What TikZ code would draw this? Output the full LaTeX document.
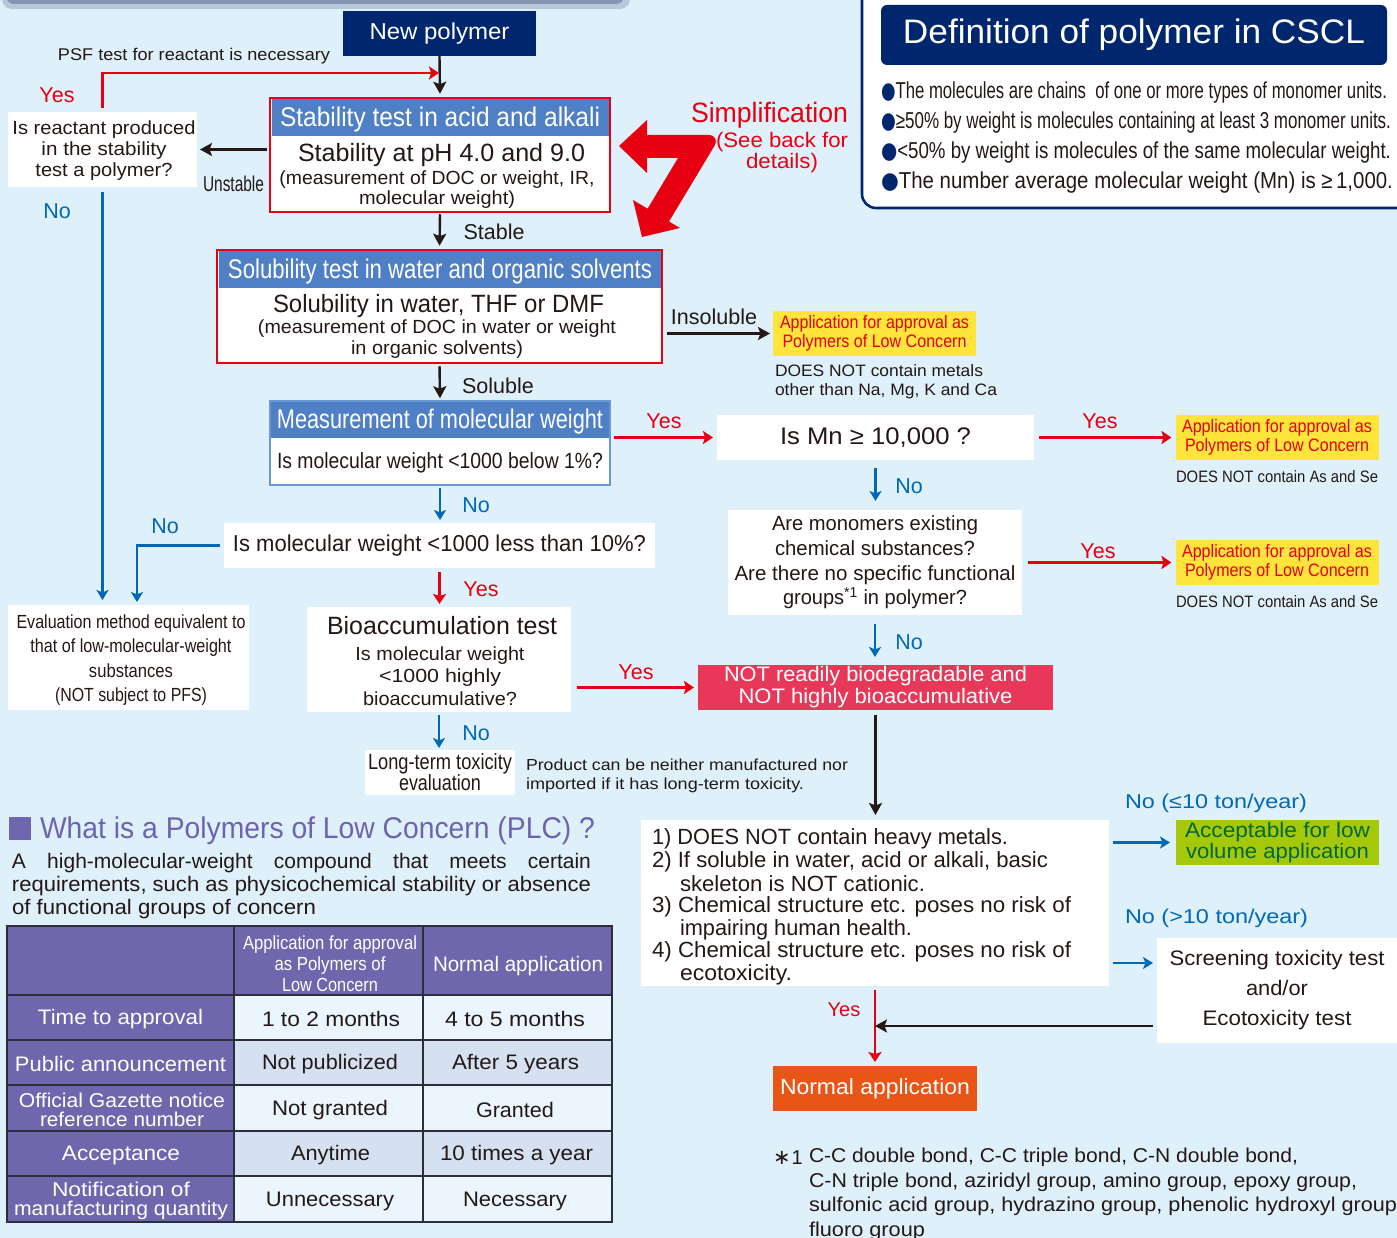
\documentclass[tikz,border=0pt]{standalone}
\usepackage{fontspec}
\usepackage{graphicx}
\setmainfont{Liberation Sans}
\newfontfamily\djf{DejaVu Sans}
\usetikzlibrary{arrows.meta}
\definecolor{bgc}{HTML}{DEF0FA}
\definecolor{navy}{HTML}{00266E}
\definecolor{hdr}{HTML}{4F80C5}
\definecolor{redc}{HTML}{E60012}
\definecolor{bluec}{HTML}{0068B7}
\definecolor{ylw}{HTML}{FFE43C}
\definecolor{crim}{HTML}{E8385A}
\definecolor{orng}{HTML}{E95517}
\definecolor{grn}{HTML}{A6C80B}
\definecolor{dgrn}{HTML}{006934}
\definecolor{purp}{HTML}{6F67AD}
\definecolor{purpt}{HTML}{6E64AE}
\definecolor{tl}{HTML}{EAF5FD}
\definecolor{tm}{HTML}{D5E1F1}
\definecolor{ink}{HTML}{231815}
\definecolor{measb}{HTML}{6A98D6}
\definecolor{topb}{HTML}{8594B0}
\definecolor{tgrid}{HTML}{2E2E3A}
\newcommand\hx[2]{\resizebox{#1pt}{\height}{#2}}
\newcommand\fs[2]{\fontsize{#1}{#2}\selectfont}
\begin{document}
\begin{tikzpicture}[x=1pt,y=-1pt]
\tikzset{
  wbox/.style={fill=white, inner sep=0pt, outer sep=0pt, align=center, text=ink},
  tx/.style={inner sep=0pt, outer sep=0pt, align=center, text=ink, yshift=-2pt},
  barr/.style={draw=ink, line width=2.4pt, -{Stealth[length=12pt,width=13pt,inset=2.5pt]}},
  rarr/.style={draw=redc, line width=2.6pt, -{Stealth[length=10pt,width=13pt,inset=2pt]}},
  blarr/.style={draw=bluec, line width=2.4pt, -{Stealth[length=10pt,width=12pt,inset=2.5pt]}},
  ylab/.style={tx, text=redc, font=\fs{21.5}{24}},
  nlab/.style={tx, text=bluec, font=\fs{21.5}{24}},
  klab/.style={tx, font=\fs{21.5}{24}},
  ybox/.style={fill=ylw, inner sep=0pt, outer sep=0pt, minimum width=203pt, minimum height=45pt, text=redc, align=center, font=\fs{18}{19}},
  cell/.style={tx, font=\fs{21}{23}},
  wcell/.style={tx, text=white, font=\fs{21}{23}},
}
\useasboundingbox (0,0) rectangle (1397,1238);
\clip (0,0) rectangle (1397,1238);
\fill[bgc] (0,0) rectangle (1397,1238);
% top bar
\fill[topb!45!bgc, rounded corners=10pt] (2,-20) rectangle (630,9);
\fill[topb, rounded corners=8pt] (6,-20) rectangle (624,4);

% definition box
\draw[navy, line width=2.6pt, fill=white, rounded corners=14pt] (862,-40) rectangle (1440,208);
\node[fill=navy, rounded corners=6pt, minimum width=506pt, minimum height=60pt, inner sep=0pt, text=white, font=\fs{34}{36}] (defh) at (1134,35) {\hx{462}{Definition of polymer in CSCL}};
\node[tx, anchor=west, font=\fs{23}{25}] (d1) at (881,91) {\hx{506}{{\color{navy}\djf ●}The molecules are chains\ \ of one or more types of monomer units.}};
\node[tx, anchor=west, font=\fs{23}{25}] (d2) at (881,121) {\hx{510}{{\color{navy}\djf ●}≥50\% by weight is molecules containing at least 3 monomer units.}};
\node[tx, anchor=west, font=\fs{23}{25}] (d3) at (881,151) {\hx{510}{{\color{navy}\djf ●}<50\% by weight is molecules of the same molecular weight.}};
\node[tx, anchor=west, font=\fs{23}{25}] (d4) at (881,181) {\hx{512}{{\color{navy}\djf ●}The number average molecular weight (Mn) is ≥\,1,000.}};

% simplification arrow
\fill[redc] (619,146) -- (647,120) -- (647,135) [rounded corners=13pt] -- (721,135) [sharp corners] -- (669,221.5) -- (680,228) -- (642,237) -- (633,200) -- (647.6,208.7) -- (678,158) -- (647,158) -- (647,173) -- cycle;
\node[tx, text=redc, font=\fs{28}{30}] (simp1) at (769.5,113) {\hx{157}{Simplification}};
\node[tx, text=redc, font=\fs{21}{21}] (simp2) at (782,150.5) {\hx{132}{(See back for}\\\hx{72}{details)}};

% new polymer
\node[fill=navy, minimum width=193pt, minimum height=45pt, inner sep=0pt, text=white, font=\fs{23}{25}] (newp) at (439.5,33.5) {\hx{140}{New polymer}};
\node[tx, font=\fs{17}{19}] (psf) at (194,54) {\hx{272}{PSF test for reactant is necessary}};

% reactant
\node[wbox, minimum width=189pt, minimum height=75pt] (react) at (102.5,149.5) {};
\node[tx, font=\fs{19}{21}] (reactt) at (104,149) {\hx{183}{Is reactant produced}\\\hx{125}{in the stability}\\\hx{137}{test a polymer?}};

% stability
\node[draw=redc, line width=2.5pt, fill=white, minimum width=340pt, minimum height=114pt, inner sep=0pt] (stab) at (440,155) {};
\fill[hdr] (271.5,99.5) rectangle (608.5,136.5);
\node[tx, text=white, font=\fs{27}{29}] (stabh) at (440,118) {\hx{320}{Stability test in acid and alkali}};
\node[tx, font=\fs{25}{27}] (stab1) at (441.5,153) {\hx{287}{Stability at pH 4.0 and 9.0}};
\node[tx, font=\fs{19}{20}] (stab2) at (437,188) {\hx{315}{(measurement of DOC or weight, IR,}\\\hx{156}{molecular weight)}};

% solubility
\node[draw=redc, line width=2.5pt, fill=white, minimum width=445pt, minimum height=113pt, inner sep=0pt] (sol) at (439.5,306.5) {};
\fill[hdr] (218.5,251.5) rectangle (660.5,288);
\node[tx, text=white, font=\fs{27}{29}] (solh) at (440,270) {\hx{424}{Solubility test in water and organic solvents}};
\node[tx, font=\fs{25}{27}] (sol1) at (438.5,304) {\hx{331}{Solubility in water, THF or DMF}};
\node[tx, font=\fs{19}{21}] (sol2) at (437,337.5) {\hx{358}{(measurement of DOC in water or weight}\\\hx{172}{in organic solvents)}};

% measurement
\node[draw=measb, line width=1.5pt, fill=white, minimum width=340pt, minimum height=84pt, inner sep=0pt] (meas) at (440,443) {};
\fill[hdr] (270.75,401.75) rectangle (609.25,438);
\node[tx, text=white, font=\fs{27}{29}] (meash) at (440,420) {\hx{326}{Measurement of molecular weight}};
\node[tx, font=\fs{22}{24}] (meas1) at (440,461) {\hx{326}{Is molecular weight <1000 below 1\%?}};

% insoluble -> PLC
\node[ybox] (plc1) at (874.5,333.5) {\hx{189}{Application for approval as}\\\hx{184}{Polymers of Low Concern}};
\node[tx, anchor=west, align=left, font=\fs{16.5}{19}] (plc1n) at (775,379.5) {\hx{208}{DOES NOT contain metals}\\\hx{222}{other than Na, Mg, K and Ca}};

% Mn
\node[wbox, minimum width=317pt, minimum height=45pt, font=\fs{24}{26}] (mn) at (875.5,437.5) {\hx{191}{Is Mn ≥ 10,000 ?}};
\node[ybox] (plc2) at (1277,437.5) {\hx{190}{Application for approval as}\\\hx{184}{Polymers of Low Concern}};
\node[tx, font=\fs{16.5}{19}] (plc2n) at (1277,475) {\hx{202}{DOES NOT contain As and Se}};

% monomers
\node[wbox, minimum width=294pt, minimum height=105pt, font=\fs{20.5}{24.7}] (mono) at (875,562.5) {\hx{206}{Are monomers existing}\\\hx{200}{chemical substances?}\\\hx{281}{Are there no specific functional}\\\hx{184}{groups\textsuperscript{*1} in polymer?}};
\node[ybox] (plc3) at (1277,562.5) {\hx{190}{Application for approval as}\\\hx{184}{Polymers of Low Concern}};
\node[tx, font=\fs{16.5}{19}] (plc3n) at (1277,600) {\hx{202}{DOES NOT contain As and Se}};

% not readily
\node[fill=crim, minimum width=355pt, minimum height=45pt, inner sep=0pt, outer sep=0pt, text=white, align=center, font=\fs{21}{22}] (notr) at (875.5,687.5) {\hx{303}{NOT readily biodegradable and}\\\hx{274}{NOT highly bioaccumulative}};

% less than 10%
\node[wbox, minimum width=431pt, minimum height=45pt, font=\fs{23}{25}] (q10) at (439.5,545.5) {\hx{413}{Is molecular weight <1000 less than 10\%?}};

% bioaccumulation
\node[wbox, minimum width=264pt, minimum height=105pt] (bio) at (439,659.5) {};
\node[tx, font=\fs{25}{27}] (bio1) at (442,624) {\hx{230}{Bioaccumulation test}};
\node[tx, font=\fs{19}{22.5}] (bio2) at (440,674) {\hx{169}{Is molecular weight}\\\hx{122}{<1000 highly}\\\hx{154}{bioaccumulative?}};

% long-term
\node[wbox, minimum width=150pt, minimum height=45pt, font=\fs{22}{21}] (lt) at (440,772.5) {\hx{144}{Long-term toxicity}\\\hx{82}{evaluation}};
\node[tx, anchor=west, align=left, font=\fs{16}{19}] (prod) at (526,773.5) {\hx{322}{Product can be neither manufactured nor}\\\hx{278}{imported if it has long-term toxicity.}};

% evaluation
\node[wbox, minimum width=241pt, minimum height=105pt] (eval) at (128.5,657.5) {};
\node[tx, font=\fs{19}{24.3}] (evalt) at (131,658) {\hx{229}{Evaluation method equivalent to}\\\hx{201}{that of low-molecular-weight}\\\hx{84}{substances}\\\hx{152}{(NOT subject to PFS)}};

% conditions
\node[wbox, minimum width=468pt, minimum height=166pt] (cond) at (875,903) {};
\node[tx, anchor=west, font=\fs{22}{24}] (c1) at (652,837) {\hx{356}{1) DOES NOT contain heavy metals.}};
\node[tx, anchor=west, font=\fs{22}{24}] (c2) at (652,860) {\hx{396}{2) If soluble in water, acid or alkali, basic}};
\node[tx, anchor=west, font=\fs{22}{24}] (c3) at (680,882) {\hx{245}{skeleton is NOT cationic.}};
\node[tx, anchor=west, font=\fs{22}{24}] (c4) at (652,905) {\hx{419}{3) Chemical structure etc. poses no risk of}};
\node[tx, anchor=west, font=\fs{22}{24}] (c5) at (680,928) {\hx{232}{impairing human health.}};
\node[tx, anchor=west, font=\fs{22}{24}] (c6) at (652,950) {\hx{419}{4) Chemical structure etc. poses no risk of}};
\node[tx, anchor=west, font=\fs{22}{24}] (c7) at (680,973) {\hx{112}{ecotoxicity.}};

\node[fill=grn, minimum width=203pt, minimum height=45pt, inner sep=0pt, outer sep=0pt, text=dgrn, align=center, font=\fs{21}{20.5}] (acc) at (1277.5,842.5) {\hx{185}{Acceptable for low}\\\hx{183}{volume application}};
\node[wbox, minimum width=240pt, minimum height=105pt, font=\fs{21}{30}] (scr) at (1277,990.5) {\hx{215}{Screening toxicity test}\\\hx{62}{and/or}\\\hx{149}{Ecotoxicity test}};
\node[fill=orng, minimum width=204pt, minimum height=45pt, inner sep=0pt, outer sep=0pt, text=white, font=\fs{22}{24}] (norm) at (875,1088.5) {\hx{190}{Normal application}};

% footnote
\node[tx, anchor=west, font=\fs{20}{24.5}] (fn0) at (773,1156) {{\djf\fs{21}{24}∗}\hspace{1pt}1};
\node[tx, anchor=west, align=left, font=\fs{20}{24.5}] (fn) at (809,1192.5) {\hx{489}{C-C double bond, C-C triple bond, C-N double bond,}\\\hx{548}{C-N triple bond, aziridyl group, amino group, epoxy group,}\\\hx{588}{sulfonic acid group, hydrazino group, phenolic hydroxyl group}\\\hx{116}{fluoro group}};

% PLC heading and paragraph
\fill[purp] (9,817) rectangle (31,840);
\node[tx, anchor=west, text=purpt, font=\fs{30}{32}] (plch) at (40,829) {\hx{555}{What is a Polymers of Low Concern (PLC) ?}};
\node[tx, anchor=west, font=\fs{21}{23}] (par1) at (12,861) {\makebox[579pt][s]{A high-molecular-weight compound that meets certain}};
\node[tx, anchor=west, font=\fs{21}{23}] (par2) at (12,884) {\hx{579}{requirements, such as physicochemical stability or absence}};
\node[tx, anchor=west, font=\fs{21}{23}] (par3) at (12,907) {\hx{304}{of functional groups of concern}};

% table
\fill[purp] (7,926) rectangle (612,995);
\fill[purp] (7,995) rectangle (234,1222);
\fill[tl] (234,995) rectangle (612,1040);
\fill[tm] (234,1040) rectangle (612,1085);
\fill[tl] (234,1085) rectangle (612,1131);
\fill[tm] (234,1131) rectangle (612,1176);
\fill[tl] (234,1176) rectangle (612,1222);
\foreach \yy in {995,1040,1085,1131,1176} \draw[tgrid, line width=1.6pt] (7,\yy) -- (612,\yy);
\draw[tgrid, line width=1.6pt] (234,926) -- (234,1222) (423,926) -- (423,1222);
\draw[tgrid, line width=2.2pt] (7,926) rectangle (612,1222);
\node[wcell, font=\fs{19}{21}] (th2) at (330,962) {\hx{174}{Application for approval}\\\hx{111}{as Polymers of}\\\hx{96}{Low Concern}};
\node[wcell] (th3) at (518,964) {\hx{170}{Normal application}};
\node[wcell] (r1a) at (120.5,1017) {\hx{165}{Time to approval}};
\node[cell] (r1b) at (331,1017) {\hx{138}{1 to 2 months}};
\node[cell] (r1c) at (515,1017) {\hx{140}{4 to 5 months}};
\node[wcell] (r2a) at (120.5,1062) {\hx{211}{Public announcement}};
\node[cell] (r2b) at (330,1062) {\hx{136}{Not publicized}};
\node[cell] (r2c) at (515.5,1062) {\hx{127}{After 5 years}};
\node[wcell, font=\fs{20}{18.5}] (r3a) at (122,1108) {\hx{206}{Official Gazette notice}\\\hx{164}{reference number}};
\node[cell] (r3b) at (330,1108) {\hx{116}{Not granted}};
\node[cell] (r3c) at (515,1108) {\hx{78}{Granted}};
\node[wcell] (r4a) at (121,1153) {\hx{118}{Acceptance}};
\node[cell] (r4b) at (330.5,1153) {\hx{79}{Anytime}};
\node[cell] (r4c) at (516.5,1153) {\hx{153}{10 times a year}};
\node[wcell, font=\fs{20}{19}] (r5a) at (121,1199) {\hx{138}{Notification of}\\\hx{214}{manufacturing quantity}};
\node[cell] (r5b) at (330,1199) {\hx{128}{Unnecessary}};
\node[cell] (r5c) at (515,1199) {\hx{104}{Necessary}};

% labels
\node[ylab] (ly1) at (57,93) {Yes};
\node[nlab] (ln1) at (57,209) {No};
\node[klab] (lunst) at (233.5,182) {\hx{61}{Unstable}};
\node[klab] (lstab) at (494,230) {Stable};
\node[klab] (lsol) at (498,384) {Soluble};
\node[klab] (linsol) at (714,315) {Insoluble};
\node[ylab] (ly2) at (664,419) {Yes};
\node[ylab] (ly3) at (1100,419) {Yes};
\node[nlab] (ln2) at (909,484) {No};
\node[ylab] (ly4) at (1098,549) {Yes};
\node[nlab] (ln3) at (909,640) {No};
\node[nlab] (ln4) at (476,503) {No};
\node[nlab] (ln5) at (165,524) {No};
\node[ylab] (ly5) at (481,587) {Yes};
\node[ylab] (ly6) at (636,670) {Yes};
\node[nlab] (ln6) at (476,731) {No};
\node[ylab, font=\fs{20}{22}] (ly7) at (844,1008) {Yes};
\node[nlab, font=\fs{20}{22}] (lno1) at (1216,801) {\hx{182}{No (≤10 ton/year)}};
\node[nlab, font=\fs{20}{22}] (lno2) at (1216.5,916) {\hx{183}{No (>10 ton/year)}};

% connectors
\coordinate (jn1) at (439,73);
\coordinate (e2) at (137,605);
\coordinate (yj) at (875,1026);
\coordinate (sy) at (1150,963);
\draw[rarr, shorten <=4pt] (react.north) |- (jn1);
\draw[barr, shorten >=3pt] (newp.south) -- (stab.north);
\draw[barr, shorten <=2pt, shorten >=3pt] (stab.west |- react.east) -- (react.east);
\draw[blarr, shorten <=5pt, shorten >=5pt] (react.south) -- (react.south |- eval.north);
\draw[barr, shorten <=1pt, shorten >=3pt] (stab.south) -- (sol.north);
\draw[barr, shorten <=2pt, shorten >=2pt] (sol.south) -- (meas.north);
\draw[barr, shorten <=4pt, shorten >=3pt] (sol.east |- plc1.west) -- (plc1.west);
\draw[rarr, shorten <=3pt, shorten >=4pt] (meas.east |- mn.west) -- (mn.west);
\draw[rarr, shorten <=5pt, shorten >=4pt] (mn.east) -- (plc2.west);
\draw[blarr, shorten <=8pt, shorten >=9pt] (mn.south) -- (mn.south |- mono.north);
\draw[rarr, shorten <=6pt, shorten >=4pt] (mono.east) -- (plc3.west);
\draw[blarr, shorten <=9pt, shorten >=8pt] (mono.south) -- (mono.south |- notr.north);
\draw[blarr, shorten <=2pt, shorten >=3pt] (meas.south) -- (meas.south |- q10.north);
\draw[rarr, shorten <=4pt, shorten >=3pt] (q10.south) -- (q10.south |- bio.north);
\draw[blarr, shorten <=4pt, shorten >=3pt] (q10.west) -| (e2);
\draw[rarr, shorten <=6pt, shorten >=4pt] (bio.east |- notr.west) -- (notr.west);
\draw[blarr, shorten <=3pt, shorten >=2pt] (bio.south) -- (bio.south |- lt.north);
\draw[barr, shorten <=5pt, shorten >=5pt] (notr.south) -- (notr.south |- cond.north);
\draw[blarr, shorten <=4pt, shorten >=6pt] (cond.east |- acc.west) -- (acc.west);
\draw[blarr, shorten <=4pt, shorten >=4pt] (cond.east |- sy) -- (scr.west |- sy);
\draw[rarr, shorten <=4pt, shorten >=4pt] (cond.south) -- (cond.south |- norm.north);
\draw[barr, shorten <=4pt] (scr.west |- yj) -- (yj);
\end{tikzpicture}
\end{document}
